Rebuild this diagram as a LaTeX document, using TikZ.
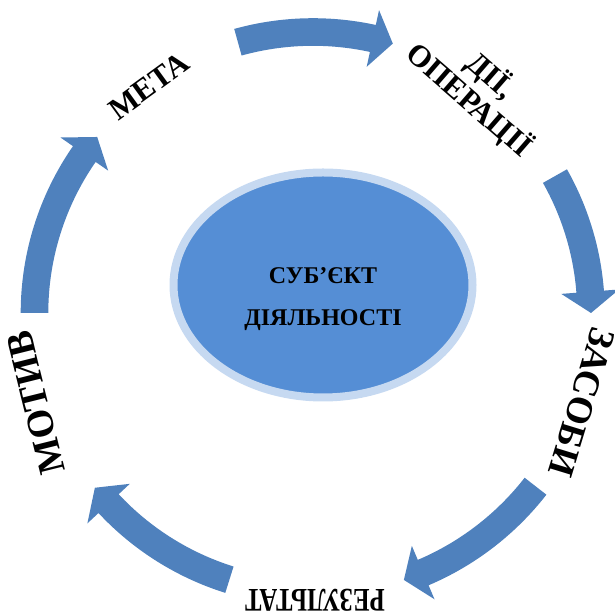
\documentclass[tikz,border=0pt]{standalone}
\usepackage{fontspec}
\setmainfont{Liberation Serif}
\definecolor{arrowblue}{HTML}{4F81BD}
\definecolor{ellfill}{HTML}{558ED5}
\definecolor{ellring}{HTML}{C6D9F1}
% start angle, head base angle, tip angle, mid radius
\newcommand\cycarrow[4]{%
  \pgfmathsetmacro\cycRo{#4+13.8}\pgfmathsetmacro\cycRi{#4-13.8}%
  \pgfmathsetmacro\cycHo{#4+29}\pgfmathsetmacro\cycHi{#4-29}%
  \fill[arrowblue] (#1:\cycRo pt) arc[start angle=#1,end angle=#2,radius=\cycRo pt]
    -- (#2:\cycHo pt) -- (#3:#4pt) -- (#2:\cycHi pt) -- (#2:\cycRi pt)
    arc[start angle=#2,end angle=#1,radius=\cycRi pt] -- cycle;}
\tikzset{
  cyclabel/.style={font=\bfseries, inner sep=0pt, align=center, text=black},
  subject/.style={ellipse, fill=ellfill, draw=ellring, line width=8pt,
    minimum width=299pt, minimum height=225pt, inner sep=0pt}
}
\usetikzlibrary{shapes.geometric}
\begin{document}
\begin{tikzpicture}[x=1pt,y=1pt]
\useasboundingbox (0,0) rectangle (615,612);
\begin{scope}[shift={(313,299)}]
  \cycarrow{105.5}{77.7}{73.5}{281}
  \cycarrow{29.5}{4.4}{0}{278}
  \cycarrow{-37.9}{-67}{-71.2}{282}
  \cycarrow{-107.4}{-137}{-141.3}{279.5}
  \cycarrow{180}{145.2}{140.8}{278.5}
\end{scope}
\node[subject] (subj) at (323,327) {};
\node[cyclabel, font=\bfseries\fontsize{24}{42}\selectfont] (subjtext) at (323,313) {СУБ’ЄКТ\\ДІЯЛЬНОСТІ};
\node[cyclabel, font=\bfseries\fontsize{31}{31}\selectfont, rotate=36] (meta) at (149,526) {МЕТА};
\node[cyclabel, font=\bfseries\fontsize{31}{33}\selectfont, rotate=-41] (dii) at (480,524) {ДІЇ,\\ОПЕРАЦІЇ};
\node[cyclabel, font=\bfseries\fontsize{37}{37}\selectfont, rotate=-107] (zasoby) at (582,210) {ЗАСОБИ};
\node[cyclabel, font=\bfseries\fontsize{33}{33}\selectfont, rotate=180] (rezult) at (315,12) {\scalebox{0.75}[1]{РЕЗУЛЬТАТ}};
\node[cyclabel, font=\bfseries\fontsize{38}{38}\selectfont, rotate=104] (motyv) at (36,209) {МОТИВ};
\end{tikzpicture}
\end{document}
